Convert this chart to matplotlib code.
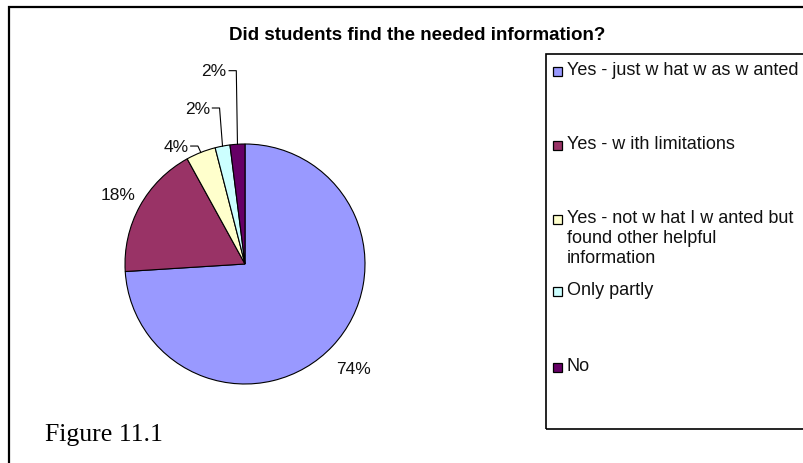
import matplotlib
matplotlib.use("Agg")
import matplotlib.pyplot as plt
from matplotlib.patches import Rectangle
import numpy as np

# ---- data ----
categories = [
    "Yes - just w hat w as w anted",
    "Yes - w ith limitations",
    "Yes - not w hat I w anted but\nfound other helpful\ninformation",
    "Only partly",
    "No",
]
values = [74, 18, 4, 2, 2]
pct_labels = ["74%", "18%", "4%", "2%", "2%"]
colors = ["#9999FF", "#993366", "#FFFFCC", "#CCFFFF", "#660066"]
title = "Did students find the needed information?"
caption = "Figure 11.1"

# ---- layout (label anchors in pie-radius units, ha) ----
label_pos = [(0.908, -0.867, "center"), (-1.058, 0.583, "center"),
             (-0.4725, 0.983, "right"), (-0.292, 1.30, "right"),
             (-0.1525, 1.611, "right")]
use_leader = [False, False, True, True, True]

W, H = 804, 464
fig = plt.figure(figsize=(W / 100, H / 100), dpi=100)
fig.patch.set_facecolor("white")
SANS = "Liberation Sans"
SERIF = "Liberation Serif"

def fx(px):
    return px / W

def fy(py):
    return 1 - py / H

# outer frame
fig.add_artist(Rectangle((fx(9), fy(500)), fx(900), fy(7.5) - fy(500),
                         transform=fig.transFigure, fill=False,
                         edgecolor="black", linewidth=1.6))

# pie axes: centre (245,265), radius 120 px
cx, cy, r = 245, 265, 120
ax = fig.add_axes([fx(cx - r), fy(cy + r), (2 * r) / W, (2 * r) / H])
wedges, _ = ax.pie(values, colors=colors, startangle=90, counterclock=False,
                   radius=1.0,
                   wedgeprops=dict(edgecolor="black", linewidth=0.8))
ax.set_xlim(-1, 1)
ax.set_ylim(-1, 1)
ax.set_aspect("auto")
ax.axis("off")

for i, w in enumerate(wedges):
    lx, ly, ha = label_pos[i]
    ax.text(lx, ly, pct_labels[i], ha=ha, va="center", fontsize=12.5,
            family=SANS, color="#111111", clip_on=False)
    if use_leader[i]:
        th = np.deg2rad((w.theta1 + w.theta2) / 2)
        ex, ey = np.cos(th), np.sin(th)
        sx = lx + 0.02
        elbow_x = min(ex, lx + 0.08)
        ax.plot([sx, elbow_x, ex], [ly, ly, ey], color="black",
                linewidth=0.8, clip_on=False)

# title
fig.text(fx(417.5), fy(36), title, ha="center", va="center",
         fontsize=13.5, fontweight="bold", family=SANS)

# legend box
fig.add_artist(Rectangle((fx(546), fy(430)), fx(400), fy(55) - fy(430),
                         transform=fig.transFigure, fill=False,
                         edgecolor="black", linewidth=1.2))
first_line_y = [72, 146, 220, 292, 368]
for i, lab in enumerate(categories):
    yc = first_line_y[i]
    fig.add_artist(Rectangle((fx(553), fy(yc + 4.5)), 9 / W, 9 / H,
                             transform=fig.transFigure,
                             facecolor=colors[i], edgecolor="black",
                             linewidth=0.9))
    fig.text(fx(567), fy(yc - 10), lab, ha="left", va="top",
             fontsize=13, family=SANS, linespacing=1.22, color="#111111")

# caption
fig.text(fx(45), fy(441), caption, ha="left", va="baseline",
         fontsize=18.5, family=SERIF)

fig.savefig("out.png", dpi=100, facecolor="white")
